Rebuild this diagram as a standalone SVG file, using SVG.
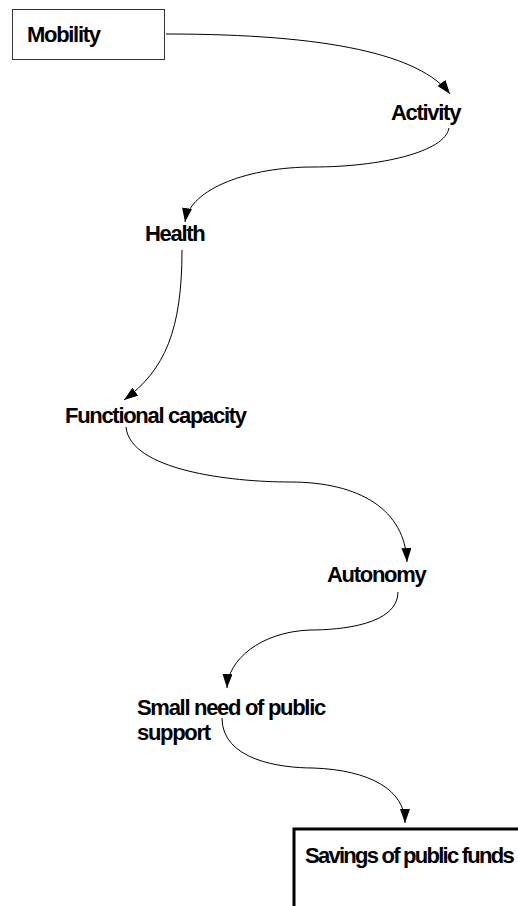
<svg xmlns="http://www.w3.org/2000/svg" width="518" height="906" viewBox="0 0 518 906">
<defs>
<style>
.lbl{font-family:"Liberation Sans",Arial,Helvetica,sans-serif;font-weight:bold;font-size:22px;letter-spacing:-1.3px;fill:#000}
.edge{fill:none;stroke:#000;stroke-width:1}
</style>
<marker id="arr" markerUnits="userSpaceOnUse" markerWidth="15" markerHeight="11" refX="14" refY="5" orient="auto">
<path d="M0,0 L14,5 L0,10 Z" fill="#000"/>
</marker>
</defs>
<rect width="518" height="906" fill="#fff"/>
<g id="connectors">
<path class="edge" marker-end="url(#arr)" d="M166,34 C330,34 420,55 450,94"/>
<path class="edge" marker-end="url(#arr)" d="M449,128 C445,152 380,167 313,167 C250,167 190,188 185,222"/>
<path class="edge" marker-end="url(#arr)" d="M182,250 C182,330 165,370 124,400"/>
<path class="edge" marker-end="url(#arr)" d="M126,427 C130,470 230,482 290,482 C360,482 405,510 407,562"/>
<path class="edge" marker-end="url(#arr)" d="M398,592 C398,625 340,630 310,630 C260,632 228,660 227,688"/>
<path class="edge" marker-end="url(#arr)" d="M222,718 C222,760 280,768 313,768 C370,770 405,790 405,823"/>
</g>
<g id="mobility">
<rect x="12.5" y="9.5" width="152" height="50" fill="#fff" stroke="#333" stroke-width="1"/>
<text class="lbl" x="27" y="42">Mobility</text>
</g>
<g id="activity"><text class="lbl" x="391" y="120">Activity</text></g>
<g id="health"><text class="lbl" x="145" y="241">Health</text></g>
<g id="functional"><text class="lbl" x="65" y="423">Functional capacity</text></g>
<g id="autonomy"><text class="lbl" x="327" y="582">Autonomy</text></g>
<g id="smallneed"><text class="lbl" x="137" y="715">Small need of public<tspan x="137" y="740">support</tspan></text></g>
<g id="savings">
<rect x="294" y="829" width="240" height="90" fill="#fff" stroke="#000" stroke-width="3"/>
<text class="lbl" x="305" y="863" style="letter-spacing:-1.75px">Savings of public funds</text>
</g>
</svg>
